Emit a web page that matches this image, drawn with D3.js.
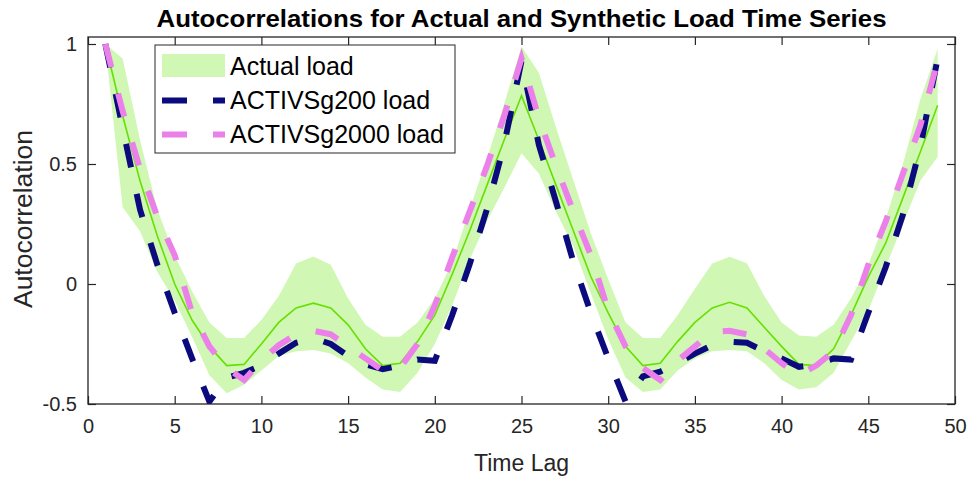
<!DOCTYPE html>
<html>
<head>
<meta charset="utf-8">
<script src="https://d3js.org/d3.v7.min.js"></script>
<style>
  body { margin: 0; background: #fff; }
  svg { display: block; font-family: "Liberation Sans", Arial, Helvetica, sans-serif; }
</style>
</head>
<body>
<svg id="chart" width="971" height="477"></svg>
<script>
// lag index (x)
var lags = [1, 2, 3, 4, 5, 6, 7, 8, 9, 10, 11, 12, 13, 14, 15, 16, 17, 18, 19, 20,
            21, 22, 23, 24, 25, 26, 27, 28, 29, 30, 31, 32, 33, 34, 35, 36, 37, 38, 39, 40,
            41, 42, 43, 44, 45, 46, 47, 48, 49];

// actual load: mean line and band
var actualMean = [1.00, 0.70, 0.43, 0.20, 0.00, -0.15, -0.26, -0.34, -0.335, -0.25,
                  -0.16, -0.10, -0.08, -0.10, -0.17, -0.27, -0.34, -0.33, -0.24, -0.13,
                  0.04, 0.22, 0.41, 0.60, 0.785, 0.60, 0.41, 0.22, 0.03, -0.12,
                  -0.26, -0.34, -0.33, -0.24, -0.16, -0.10, -0.076, -0.10, -0.18, -0.26,
                  -0.335, -0.34, -0.27, -0.13, 0.03, 0.17, 0.36, 0.55, 0.745];
var actualHigh = [1.00, 0.94, 0.60, 0.31, 0.12, -0.03, -0.16, -0.225, -0.225, -0.15,
                  -0.05, 0.085, 0.115, 0.08, -0.06, -0.17, -0.22, -0.22, -0.16, -0.06,
                  0.09, 0.31, 0.52, 0.75, 0.99, 0.88, 0.65, 0.43, 0.21, 0.02,
                  -0.16, -0.225, -0.225, -0.13, -0.02, 0.085, 0.114, 0.086, -0.05, -0.16,
                  -0.215, -0.22, -0.17, -0.06, 0.08, 0.27, 0.50, 0.77, 0.98];
var actualLow = [0.99, 0.32, 0.22, 0.05, -0.07, -0.22, -0.38, -0.455, -0.42, -0.36,
                 -0.30, -0.28, -0.275, -0.29, -0.33, -0.39, -0.44, -0.45, -0.37, -0.25,
                 -0.09, 0.10, 0.26, 0.40, 0.545, 0.46, 0.30, 0.155, -0.04, -0.23,
                 -0.39, -0.45, -0.44, -0.36, -0.31, -0.28, -0.275, -0.28, -0.33, -0.40,
                 -0.44, -0.43, -0.37, -0.24, -0.11, 0.07, 0.25, 0.43, 0.53];

// synthetic cases
var sg200 = [1.00, 0.65, 0.31, 0.08, -0.12, -0.31, -0.49, -0.39, -0.37, -0.34,
             -0.29, -0.245, -0.225, -0.25, -0.30, -0.335, -0.355, -0.34, -0.315, -0.32,
             -0.13, 0.08, 0.31, 0.58, 0.93, 0.58, 0.34, 0.09, -0.12, -0.31,
             -0.49, -0.385, -0.365, -0.33, -0.29, -0.255, -0.24, -0.245, -0.28, -0.31,
             -0.345, -0.335, -0.31, -0.315, -0.12, 0.07, 0.29, 0.57, 0.94];
var sg2000 = [1.00, 0.72, 0.48, 0.28, 0.12, -0.12, -0.26, -0.35, -0.40, -0.32,
              -0.255, -0.21, -0.195, -0.21, -0.26, -0.31, -0.36, -0.35, -0.25, -0.09,
              0.11, 0.30, 0.49, 0.70, 0.94, 0.69, 0.49, 0.30, 0.12, -0.11,
              -0.26, -0.35, -0.40, -0.32, -0.26, -0.20, -0.195, -0.21, -0.27, -0.33,
              -0.38, -0.34, -0.28, -0.13, 0.08, 0.26, 0.46, 0.66, 0.93];

var xTicks = [0, 5, 10, 15, 20, 25, 30, 35, 40, 45, 50];
var yTicks = [-0.5, 0, 0.5, 1];
var legendLabels = ["Actual load", "ACTIVSg200 load", "ACTIVSg2000 load"];

var bandColor = "#d0f7b4",
    meanColor = "#66e000",
    navyColor = "#0b0b7d",
    pinkColor = "#ec80ea",
    axisColor = "#262626";

var svg = d3.select("#chart");
var margin = {top: 37, right: 16, bottom: 73, left: 88};
var width = +svg.attr("width") - margin.left - margin.right,
    height = +svg.attr("height") - margin.top - margin.bottom;

var x = d3.scaleLinear().domain([0, 50]).range([0, width]);
var y = d3.scaleLinear().domain([-0.5, 1.0292]).range([height, 0]);

svg.append("rect").attr("width", 971).attr("height", 477).attr("fill", "#fff");

svg.append("defs").append("clipPath")
    .attr("id", "clip")
  .append("rect")
    .attr("width", width)
    .attr("height", height);

var g = svg.append("g")
    .attr("transform", "translate(" + margin.left + "," + margin.top + ")");

var rows = lags.map(function(d, i) {
  return {lag: d, mean: actualMean[i], hi: actualHigh[i], lo: actualLow[i], a: sg200[i], b: sg2000[i]};
});

var plot = g.append("g").attr("clip-path", "url(#clip)");

var band = d3.area()
    .x(function(d) { return x(d.lag); })
    .y0(function(d) { return y(d.lo); })
    .y1(function(d) { return y(d.hi); });

function lineOf(key) {
  return d3.line()
      .x(function(d) { return x(d.lag); })
      .y(function(d) { return y(d[key]); });
}

plot.append("path")
    .datum(rows)
    .attr("d", band)
    .attr("fill", bandColor);

plot.append("path")
    .datum(rows)
    .attr("d", lineOf("mean"))
    .attr("fill", "none")
    .attr("stroke", meanColor)
    .attr("stroke-width", 1.6);

var dash = "24,27";

plot.append("path")
    .datum(rows)
    .attr("d", lineOf("a"))
    .attr("fill", "none")
    .attr("stroke", navyColor)
    .attr("stroke-width", 6)
    .attr("stroke-dasharray", dash)
    .attr("stroke-linejoin", "miter");

plot.append("path")
    .datum(rows)
    .attr("d", lineOf("b"))
    .attr("fill", "none")
    .attr("stroke", pinkColor)
    .attr("stroke-width", 6)
    .attr("stroke-dasharray", dash)
    .attr("stroke-linejoin", "miter");

// axes: ticks inside, on all four sides
var xAxis = d3.axisBottom(x).tickValues(xTicks).tickSizeInner(-8).tickSizeOuter(0).tickPadding(15);
var yAxis = d3.axisLeft(y).tickValues(yTicks).tickSizeInner(-8).tickSizeOuter(0).tickPadding(11)
    .tickFormat(function(d) { return d; });

var gx = g.append("g").attr("transform", "translate(0," + height + ")").call(xAxis);
var gy = g.append("g").call(yAxis);
var gxTop = g.append("g").call(d3.axisTop(x).tickValues(xTicks).tickSizeInner(-8).tickSizeOuter(0).tickFormat(""));
var gyRight = g.append("g").attr("transform", "translate(" + width + ",0)")
    .call(d3.axisRight(y).tickValues(yTicks).tickSizeInner(-8).tickSizeOuter(0).tickFormat(""));

[gx, gy, gxTop, gyRight].forEach(function(a) {
  a.select(".domain").remove();
  a.selectAll(".tick line").attr("stroke", axisColor).attr("stroke-width", 1.2);
  a.selectAll(".tick text")
      .attr("fill", axisColor)
      .style("font-size", "20px")
      .style("font-family", "'Liberation Sans', Arial, sans-serif");
});

g.append("rect")
    .attr("width", width)
    .attr("height", height)
    .attr("fill", "none")
    .attr("stroke", axisColor)
    .attr("stroke-width", 1.3);

// title and axis labels
svg.append("text")
    .attr("x", margin.left + width / 2)
    .attr("y", 27)
    .attr("text-anchor", "middle")
    .attr("font-size", 24)
    .attr("font-weight", "bold")
    .attr("fill", "#000")
    .attr("textLength", 730)
    .attr("lengthAdjust", "spacingAndGlyphs")
    .text("Autocorrelations for Actual and Synthetic Load Time Series");

svg.append("text")
    .attr("x", margin.left + width / 2)
    .attr("y", 471)
    .attr("text-anchor", "middle")
    .attr("font-size", 23)
    .attr("fill", axisColor)
    .text("Time Lag");

svg.append("text")
    .attr("transform", "translate(32,219) rotate(-90)")
    .attr("text-anchor", "middle")
    .attr("font-size", 25)
    .attr("fill", axisColor)
    .attr("textLength", 178)
    .attr("lengthAdjust", "spacingAndGlyphs")
    .text("Autocorrelation");

// legend
var legend = svg.append("g").attr("transform", "translate(155,45)");
legend.append("rect")
    .attr("width", 300)
    .attr("height", 108)
    .attr("fill", "#fff")
    .attr("stroke", axisColor)
    .attr("stroke-width", 1);

legend.append("rect")
    .attr("x", 7).attr("y", 9)
    .attr("width", 63).attr("height", 23)
    .attr("fill", bandColor);

[navyColor, pinkColor].forEach(function(c, i) {
  legend.append("line")
      .attr("x1", 7).attr("x2", 70)
      .attr("y1", 55.5 + i * 34).attr("y2", 55.5 + i * 34)
      .attr("stroke", c)
      .attr("stroke-width", 6)
      .attr("stroke-dasharray", "25,26");
});

legend.selectAll("text.lbl")
    .data(legendLabels)
  .enter().append("text")
    .attr("class", "lbl")
    .attr("x", 75)
    .attr("y", function(d, i) { return 30 + i * 34; })
    .attr("font-size", 25)
    .attr("fill", "#000")
    .text(function(d) { return d; });
</script>
</body>
</html>
